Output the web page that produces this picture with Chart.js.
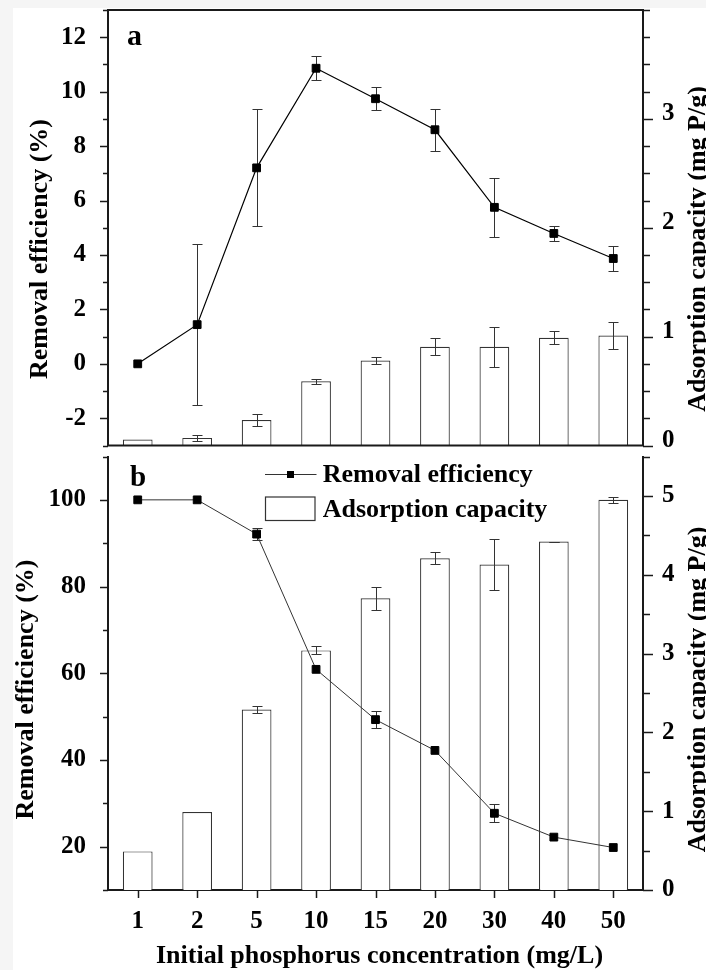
<!DOCTYPE html>
<html><head><meta charset="utf-8">
<script src="https://cdn.jsdelivr.net/npm/chart.js@4.4.0/dist/chart.umd.min.js"></script>
<style>
html,body{margin:0;padding:0;background:#f5f5f5;}
#wrap{position:relative;width:706px;height:970px;overflow:hidden;background:#f5f5f5;}
#paper{position:absolute;left:13px;top:8px;right:0;bottom:0;background:#fff;}
canvas{position:absolute;left:0;}
#ca{top:0;} #cb{top:450px;}
</style></head><body>
<div id="wrap"><div id="paper"></div>
<canvas id="ca" width="706" height="452"></canvas>
<canvas id="cb" width="706" height="520"></canvas>
</div>
<script>
// ---------- data ----------
const categories = ['1','2','5','10','15','20','30','40','50'];
const removalA = [0.0, 1.44, 7.2, 10.86, 9.74, 8.6, 5.75, 4.79, 3.87];
const removalErrA = [null, 2.97, 2.15, 0.45, 0.43, 0.78, 1.09, 0.27, 0.47];
const capacityA = [0.055, 0.07, 0.234, 0.59, 0.78, 0.906, 0.906, 0.99, 1.01];
const capacityErrA = [null, 0.03, 0.053, 0.025, 0.033, 0.077, 0.186, 0.06, 0.12];
const removalB = [100, 100, 92.1, 60.9, 49.3, 42.2, 27.7, 22.2, 19.8];
const removalErrB = [null, null, 1.3, null, 1.9, null, 2.1, null, null];
const capacityB = [0.49, 0.99, 2.29, 3.04, 3.70, 4.21, 4.13, 4.42, 4.95];
const capacityErrB = [null, null, 0.04, 0.05, 0.145, 0.08, 0.32, 0, 0.04];
const leftMajorsA = [-2, 0, 2, 4, 6, 8, 10, 12];
const rightMajorsA = [0, 1, 2, 3];
const leftMajorsB = [20, 40, 60, 80, 100];
const rightMajorsB = [0, 1, 2, 3, 4, 5];
const seriesLine = 'Removal efficiency';
const seriesBar = 'Adsorption capacity';
const yTitleLeft = 'Removal efficiency (%)';
const yTitleRight = 'Adsorption capacity (mg P/g)';
const xTitle = 'Initial phosphorus concentration (mg/L)';

// ---------- style ----------
const FONT = '"Liberation Serif", "Times New Roman", serif';
const AXIS = '#1a1a1a';
Chart.defaults.font.family = FONT;
const TICKFONT = {family: FONT, size: 25, weight: 'bold'};
const isMajor = (v, arr) => arr.some(m => Math.abs(m - v) < 1e-6);

function yScale(pos, min, max, step, majors, width, padding, labelOffset) {
  return {
    type: 'linear', position: pos, min: min, max: max,
    grid: {display: false},
    border: {display: true, width: 2, color: AXIS},
    ticks: {stepSize: step, autoSkip: false, color: '#000', font: TICKFONT,
      padding: padding, labelOffset: labelOffset || 0,
      callback: v => isMajor(v, majors) ? String(v) : ''},
    afterFit: s => { s.width = width; s.paddingTop = 0; s.paddingBottom = 0; }
  };
}

function drawErr(chart, di) {
  const ds = chart.data.datasets[di];
  const errs = ds.errors; if (!errs) return;
  const meta = chart.getDatasetMeta(di);
  const ys = chart.scales[meta.yAxisID];
  const ctx = chart.ctx;
  ctx.save();
  ctx.strokeStyle = ds.errorColor || '#333'; ctx.lineWidth = 1;
  meta.data.forEach((el, i) => {
    const e = errs[i]; if (e === null || e === undefined) return;
    const v = ds.data[i];
    const x = Math.round(el.x) + 0.5;
    const y1 = Math.round(ys.getPixelForValue(v + e)) + 0.5;
    const y2 = Math.round(ys.getPixelForValue(v - e)) + 0.5;
    ctx.beginPath();
    ctx.moveTo(x, y1); ctx.lineTo(x, y2);
    ctx.moveTo(x - 5, y1); ctx.lineTo(x + 5, y1);
    ctx.moveTo(x - 5, y2); ctx.lineTo(x + 5, y2);
    ctx.stroke();
  });
  ctx.restore();
}
const errorBars = {
  id: 'errorBars',
  beforeDatasetDraw(chart, args) { if (args.meta.type === 'line') drawErr(chart, args.index); },
  afterDatasetDraw(chart, args) { if (args.meta.type === 'bar') drawErr(chart, args.index); }
};

function drawTicks(chart, specs) {
  const ctx = chart.ctx;
  ctx.save(); ctx.strokeStyle = AXIS; ctx.lineWidth = 1.5;
  specs.forEach(sp => {
    const s = chart.scales[sp.id];
    s.ticks.forEach((t, i) => {
      const major = sp.all || isMajor(t.value, sp.majors);
      const len = major ? sp.major : sp.minor;
      const p = Math.round(s.getPixelForTick(i)) + 0.5;
      ctx.beginPath();
      if (sp.side === 'left') { ctx.moveTo(s.right, p); ctx.lineTo(s.right - len, p); }
      else if (sp.side === 'right') { ctx.moveTo(s.left, p); ctx.lineTo(s.left + len, p); }
      else { ctx.moveTo(p, s.top); ctx.lineTo(p, s.top + len); }
      ctx.stroke();
    });
  });
  ctx.restore();
}

function vText(ctx, txt, x, y) {
  ctx.save(); ctx.translate(x, y); ctx.rotate(-Math.PI / 2);
  ctx.textAlign = 'center'; ctx.textBaseline = 'alphabetic';
  ctx.fillText(txt, 0, 0); ctx.restore();
}

// ---------- panel a ----------
new Chart(document.getElementById('ca'), {
  type: 'bar',
  data: {
    labels: categories,
    datasets: [
      {type: 'line', label: seriesLine, data: removalA, errors: removalErrA, errorColor: '#333',
       yAxisID: 'y', order: 0, borderColor: '#000', borderWidth: 1.2, fill: false, tension: 0,
       pointStyle: 'rect', pointRadius: 5.5, pointBackgroundColor: '#000', pointBorderColor: '#000', pointBorderWidth: 1},
      {type: 'bar', label: seriesBar, data: capacityA, errors: capacityErrA, errorColor: '#333',
       yAxisID: 'y1', order: 1, backgroundColor: '#fff', borderColor: '#333', borderWidth: 1.2,
       barPercentage: 0.5, categoryPercentage: 1}
    ]
  },
  options: {
    responsive: false, animation: false, devicePixelRatio: 1,
    layout: {padding: {top: 10, bottom: 2, left: 0, right: 0}},
    plugins: {legend: {display: false}, tooltip: {enabled: false}},
    scales: {
      x: {type: 'category', display: false, offset: true},
      y: yScale('left', -3, 13, 1, leftMajorsA, 108, 14),
      y1: yScale('right', 0, 4, 0.25, rightMajorsA, 63, 11, -5)
    }
  },
  plugins: [errorBars, {
    id: 'decorA',
    afterDraw(chart) {
      const ctx = chart.ctx, a = chart.chartArea;
      drawTicks(chart, [
        {id: 'y', side: 'left', majors: leftMajorsA, major: 8, minor: 5},
        {id: 'y1', side: 'right', majors: rightMajorsA, major: 10, minor: 7}
      ]);
      ctx.save();
      ctx.strokeStyle = AXIS; ctx.lineWidth = 2;
      ctx.beginPath();
      ctx.moveTo(a.left, a.top); ctx.lineTo(a.right, a.top);
      ctx.moveTo(a.left, a.bottom); ctx.lineTo(a.right, a.bottom);
      ctx.stroke();
      ctx.fillStyle = '#000';
      ctx.font = 'bold 26px ' + FONT;
      vText(ctx, yTitleLeft, 46.5, 249);
      vText(ctx, yTitleRight, 705, 249);
      ctx.font = 'bold 30px ' + FONT;
      ctx.textAlign = 'left'; ctx.textBaseline = 'alphabetic';
      ctx.fillText('a', 127, 45);
      ctx.restore();
    }
  }]
});

// ---------- panel b ----------
new Chart(document.getElementById('cb'), {
  type: 'bar',
  data: {
    labels: categories,
    datasets: [
      {type: 'line', label: seriesLine, data: removalB, errors: removalErrB, errorColor: '#333',
       yAxisID: 'y', order: 0, borderColor: '#333', borderWidth: 1, fill: false, tension: 0,
       pointStyle: 'rect', pointRadius: 5.5, pointBackgroundColor: '#000', pointBorderColor: '#000', pointBorderWidth: 1},
      {type: 'bar', label: seriesBar, data: capacityB, errors: capacityErrB, errorColor: '#333',
       yAxisID: 'y1', order: 1, backgroundColor: '#fff', borderColor: '#333', borderWidth: 1.2,
       barPercentage: 0.5, categoryPercentage: 1}
    ]
  },
  options: {
    responsive: false, animation: false, devicePixelRatio: 1,
    layout: {padding: {top: 0, bottom: 0, left: 0, right: 0}},
    plugins: {legend: {display: false}, tooltip: {enabled: false}},
    scales: {
      x: {type: 'category', position: 'bottom', offset: true,
          grid: {display: false},
          border: {display: true, width: 2, color: AXIS},
          ticks: {color: '#000', font: TICKFONT, padding: 9, autoSkip: false, maxRotation: 0},
          afterFit: s => { s.height = 80; s.paddingLeft = 0; s.paddingRight = 0; }},
      y: yScale('left', 10, 110, 10, leftMajorsB, 108, 14),
      y1: yScale('right', 0, 5.5, 0.5, rightMajorsB, 63, 11, 0)
    }
  },
  plugins: [errorBars, {
    id: 'decorB',
    afterDraw(chart) {
      const ctx = chart.ctx, a = chart.chartArea;
      drawTicks(chart, [
        {id: 'y', side: 'left', majors: leftMajorsB, major: 8, minor: 5},
        {id: 'y1', side: 'right', majors: rightMajorsB, major: 10, minor: 7},
        {id: 'x', side: 'bottom', all: true, major: 8}
      ]);
      ctx.save();
      ctx.fillStyle = '#000';
      ctx.font = 'bold 26px ' + FONT;
      vText(ctx, yTitleLeft, 32.5, 239.5);
      vText(ctx, yTitleRight, 705, 239.5);
      ctx.textAlign = 'center'; ctx.textBaseline = 'alphabetic';
      ctx.fillText(xTitle, 379.5, 513);
      ctx.font = 'bold 29px ' + FONT;
      ctx.textAlign = 'left';
      ctx.fillText('b', 130, 35.7);
      // legend
      const ds0 = chart.data.datasets[0], ds1 = chart.data.datasets[1];
      ctx.strokeStyle = ds0.borderColor; ctx.lineWidth = 1;
      ctx.beginPath(); ctx.moveTo(265, 24.5); ctx.lineTo(316.5, 24.5); ctx.stroke();
      ctx.fillStyle = '#000'; ctx.fillRect(287, 21, 7, 7);
      ctx.fillStyle = '#fff'; ctx.strokeStyle = ds1.borderColor; ctx.lineWidth = 1.2;
      ctx.fillRect(265.5, 47, 49.5, 23.5); ctx.strokeRect(265.5, 47, 49.5, 23.5);
      ctx.fillStyle = '#000';
      ctx.font = 'bold 26px ' + FONT;
      ctx.fillText(ds0.label, 322.7, 31.7);
      ctx.fillText(ds1.label, 322.7, 66.7);
      ctx.restore();
    }
  }]
});
</script>
</body></html>
